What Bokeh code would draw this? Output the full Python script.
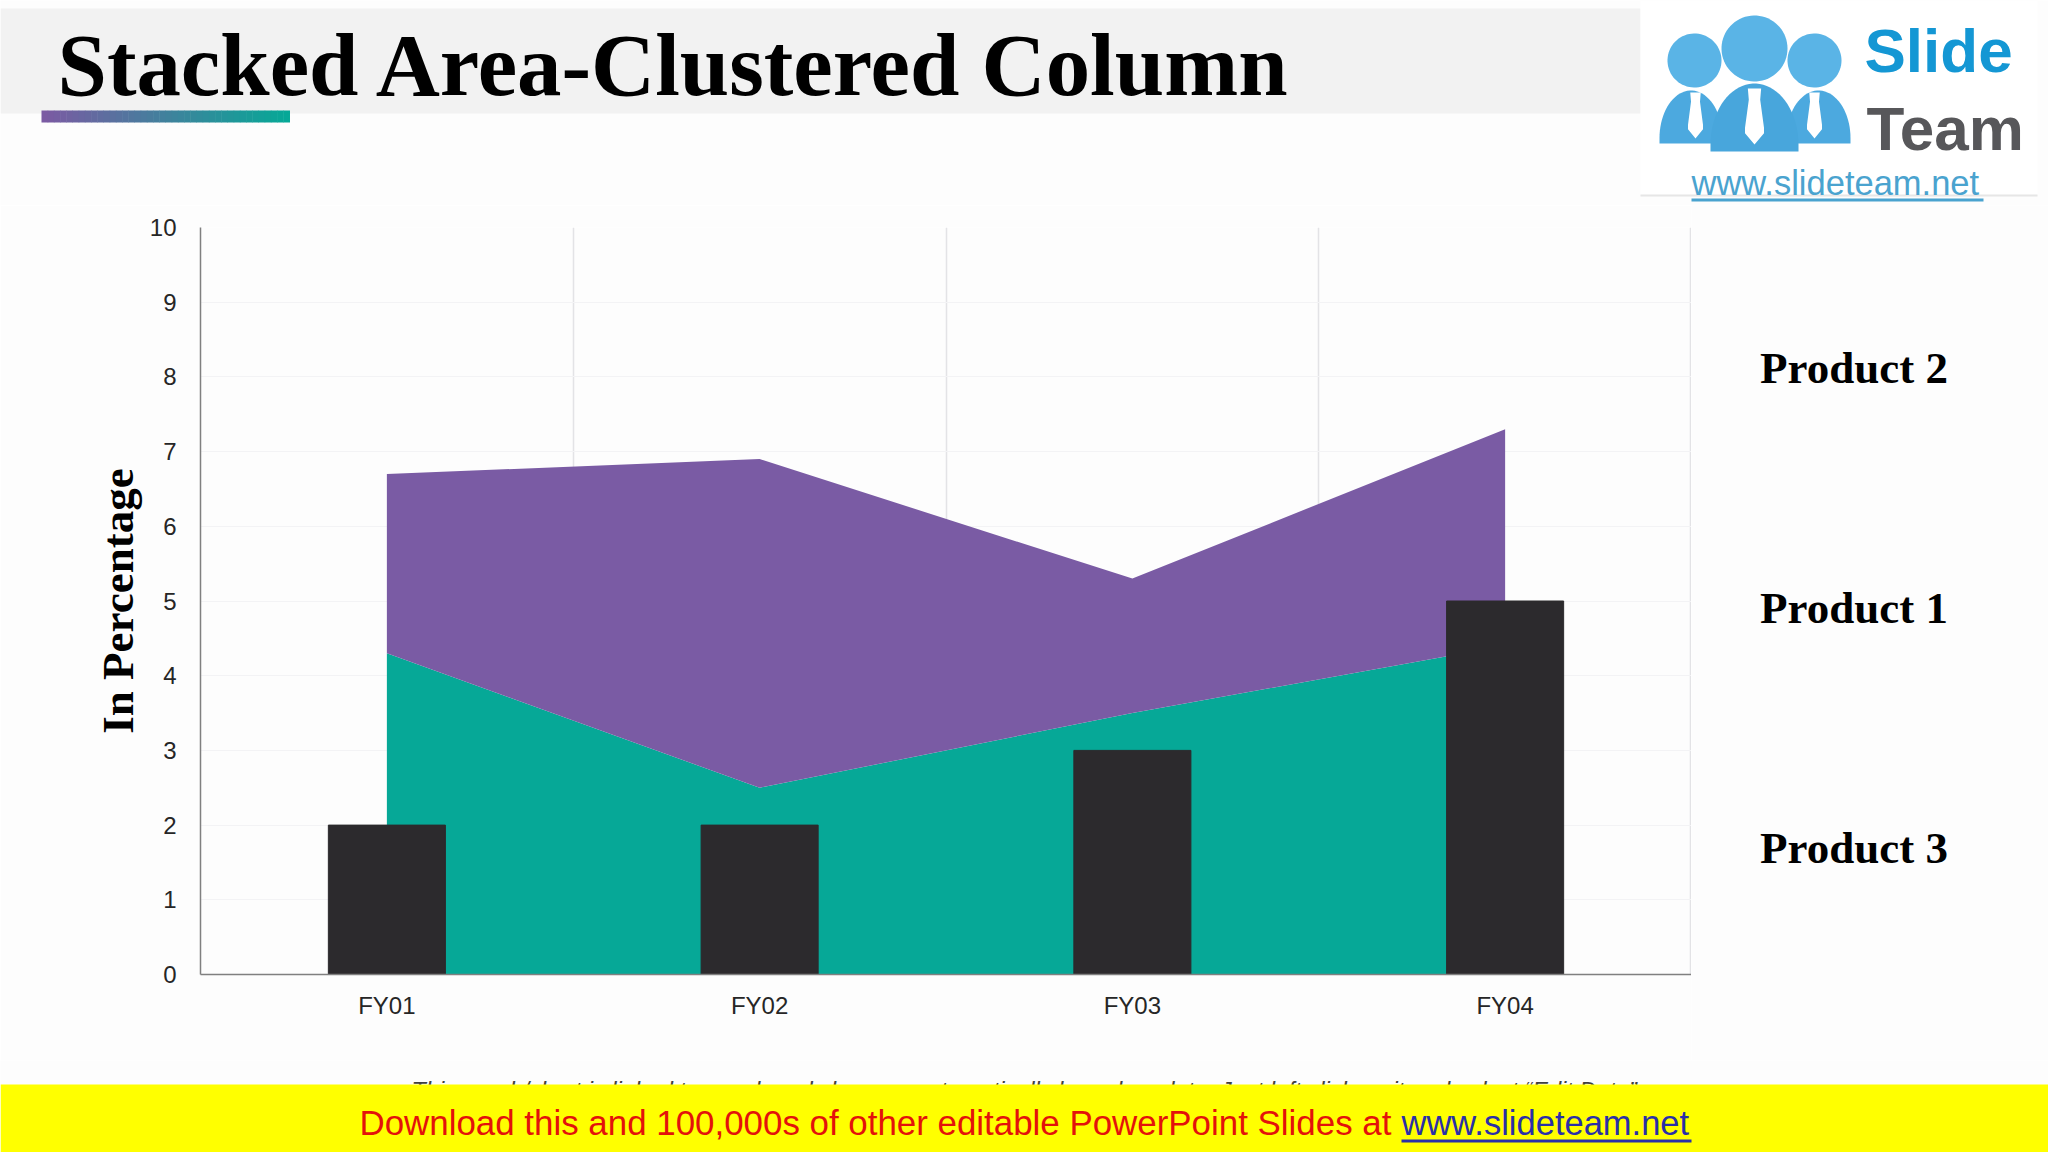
import numpy as np
from bokeh.core.properties import value
from bokeh.embed import file_html
from bokeh.layouts import column, row
from bokeh.resources import INLINE
from bokeh.plotting import figure
from bokeh.models import (ColumnDataSource, FactorRange, FixedTicker, Legend, LegendItem, Range1d,
                          SingleIntervalTicker)

categories = ["FY01", "FY02", "FY03", "FY04"]
product_1 = [4.3, 2.5, 3.5, 4.4]
product_2 = [2.4, 4.4, 1.8, 2.9]
product_3 = [2, 2, 3, 5]
title_text = "Stacked Area-Clustered Column"
y_title = "In Percentage"
note_text = "This graph/chart is linked to excel, and changes automatically based on data. Just left click on it and select \u201cEdit Data\u201d."
banner_text = "Download this and 100,000s of other editable PowerPoint Slides at"
banner_link = "www.slideteam.net"

PURPLE, TEAL, DARK = "#7A5BA4", "#06A897", "#2C2A2D"
BG = "#FDFDFD"
W, H = 2048, 1152
HEAD_B, FOOT_T = 205, 1060
F_L, F_T, F_R, F_B = 200, 227, 1691, 974


def strip(y0, y1, width=W):
    """Decoration strip whose data coordinates are page pixels."""
    f = figure(width=width, height=y1 - y0, output_backend="svg", toolbar_location=None,
               x_range=Range1d(0, width), y_range=Range1d(y1, y0), x_axis_type=None, y_axis_type=None,
               min_border=0, min_border_left=0, min_border_right=0, min_border_top=0, min_border_bottom=0,
               background_fill_color=BG, border_fill_color=BG, outline_line_color=None, frame_align=False)
    return f


def rect(f, x0, x1, y0, y1, color):
    f.quad(left=x0, right=x1, top=y0, bottom=y1, fill_color=color, line_color=None)


def text(f, x, y, s, font, size, color, style="normal"):
    f.text(x=[x], y=[y], text=[s], text_font=value(font), text_font_size=f"{size}px", text_color=color,
           text_font_style=style, text_align="left", text_baseline="alphabetic")


def circ(f, cx, cy, r, color):
    t = np.linspace(0, 2 * np.pi, 72)
    f.patch(cx + r * np.cos(t), cy + r * np.sin(t), fill_color=color, line_color=None)


def dome(f, x0, x1, ytop, ybot, color):
    t = np.linspace(np.pi, 2 * np.pi, 40)
    cx, rx = (x0 + x1) / 2, (x1 - x0) / 2
    ry = (ybot - ytop) * 0.9
    f.patch(np.r_[cx + rx * np.cos(t), x1, x0], np.r_[ytop + ry + ry * np.sin(t), ybot, ybot],
            fill_color=color, line_color=None)


def tie(f, cx, y0, y1, w):
    h = y1 - y0
    f.patch([cx - w * .35, cx + w * .35, cx + w * .3, cx + w / 2, cx + w / 2, cx, cx - w / 2, cx - w / 2, cx - w * .3],
            [y0, y0, y0 + h * .2, y0 + h * .7, y0 + h * .8, y1, y0 + h * .8, y0 + h * .7, y0 + h * .2],
            fill_color="#FFFFFF", line_color=None)


# ---------- header ----------
head = strip(0, HEAD_B)
rect(head, 0, 1640, 8, 113, "#F2F2F2")
text(head, 57, 64, title_text, "Liberation Serif", 88.8, "#000000", "bold")
c0, c1 = np.array([0x7B, 0x5B, 0xA3]), np.array([0x06, 0xA8, 0x97])
edges = np.linspace(41, 289, 41)
for i in range(40):
    c = c0 + (c1 - c0) * i / 39
    rect(head, edges[i], edges[i + 1] + .5, 110, 122, "#%02X%02X%02X" % tuple(int(v) for v in c))
rect(head, 1640, 2037, 0, 195, "#FFFFFF")
rect(head, 1640, 2037, 194, 196, "#E6E6E6")
dome(head, 1659, 1722, 90, 143, "#4CA9DF")
dome(head, 1786, 1850, 90, 143, "#4CA9DF")
circ(head, 1694, 60, 27, "#5AB4E6")
circ(head, 1814, 60, 27, "#5AB4E6")
dome(head, 1710, 1798, 83, 151, "#48A6DC")
circ(head, 1754, 48, 33, "#5AB4E6")
tie(head, 1695, 92, 138, 15)
tie(head, 1754, 88, 144, 19)
tie(head, 1814, 92, 138, 15)
text(head, 1864, 50, "Slide", "Liberation Sans", 62, "#1497D4", "bold")
text(head, 1866, 128, "Team", "Liberation Sans", 62, "#57575A", "bold")
text(head, 1691, 182, banner_link, "Liberation Sans", 34.5, "#4AA3CF")
rect(head, 1691, 1983, 198, 201, "#4AA3CF")

# ---------- chart ----------
p = figure(width=F_R, height=FOOT_T - HEAD_B, output_backend="svg", toolbar_location=None,
           x_range=FactorRange(factors=categories, range_padding=0), y_range=Range1d(0, 10),
           min_border_left=F_L, min_border_right=0, min_border_top=F_T - HEAD_B,
           min_border_bottom=FOOT_T - F_B, background_fill_color=BG, border_fill_color=BG,
           outline_line_color=None, frame_align=False)
src = ColumnDataSource(dict(fy=categories, p1=product_1, p2=product_2, p3=product_3))
areas = p.varea_stack(["p1", "p2"], x="fy", source=src, color=[TEAL, PURPLE])
bars = p.vbar(x="fy", top="p3", width=0.314, source=src, color=DARK)
p.yaxis.ticker = SingleIntervalTicker(interval=1)
p.yaxis.axis_label = y_title
p.yaxis.axis_label_text_font = "Liberation Serif"
p.yaxis.axis_label_text_font_style = "bold"
p.yaxis.axis_label_text_font_size = "45px"
p.yaxis.axis_label_text_color = "#000000"
p.yaxis.axis_label_standoff = 4
for ax in (p.xaxis[0], p.yaxis[0]):
    ax.major_tick_line_color = None
    ax.minor_tick_line_color = None
    ax.axis_line_color = "#808080"
    ax.axis_line_width = 1.5
    ax.major_label_text_font = "Liberation Sans"
    ax.major_label_text_font_size = "24px"
    ax.major_label_text_color = "#262626"
p.yaxis.major_label_standoff = 18
p.xaxis.major_label_standoff = 11
p.xgrid.ticker = FixedTicker(ticks=[1, 2, 3, 3.998])
p.xgrid.grid_line_color = "#E3E3E6"
p.xgrid.grid_line_width = 1.5
p.ygrid.grid_line_color = "#F3F3F5"

# ---------- legend (its own panel, right of the chart) ----------
leg = strip(HEAD_B, FOOT_T, width=W - F_R)
swatches = {c: leg.quad(left=[], right=[], top=[], bottom=[], fill_color=c, line_color=None)
            for c in (PURPLE, TEAL, DARK)}
legend = Legend(items=[LegendItem(label="Product 2", renderers=[swatches[PURPLE]]),
                       LegendItem(label="Product 1", renderers=[swatches[TEAL]]),
                       LegendItem(label="Product 3", renderers=[swatches[DARK]])],
                location=(32, 186), orientation="vertical",
                glyph_width=23, glyph_height=23, label_standoff=14, spacing=188,
                padding=0, margin=0, border_line_color=None, background_fill_alpha=0,
                label_text_font="Liberation Serif", label_text_font_style="bold",
                label_text_font_size="45px", label_text_color="#000000")
leg.add_layout(legend, "center")

# ---------- footer ----------
foot = strip(FOOT_T, H)
text(foot, 411, 1090, note_text, "Liberation Sans", 23.5, "#404040", "italic")
rect(foot, 0, W, 1084, H, "#FFFF00")
text(foot, 359, 1122, banner_text, "Liberation Sans", 34.9, "#E3120B")
text(foot, 1401, 1122, banner_link, "Liberation Sans", 34.5, "#2A2FA8")
rect(foot, 1401, 1691, 1139, 1142, "#2A2FA8")

page = column(head, row(p, leg, spacing=0), foot, spacing=0)
open("out.html", "w").write(file_html(page, INLINE))
